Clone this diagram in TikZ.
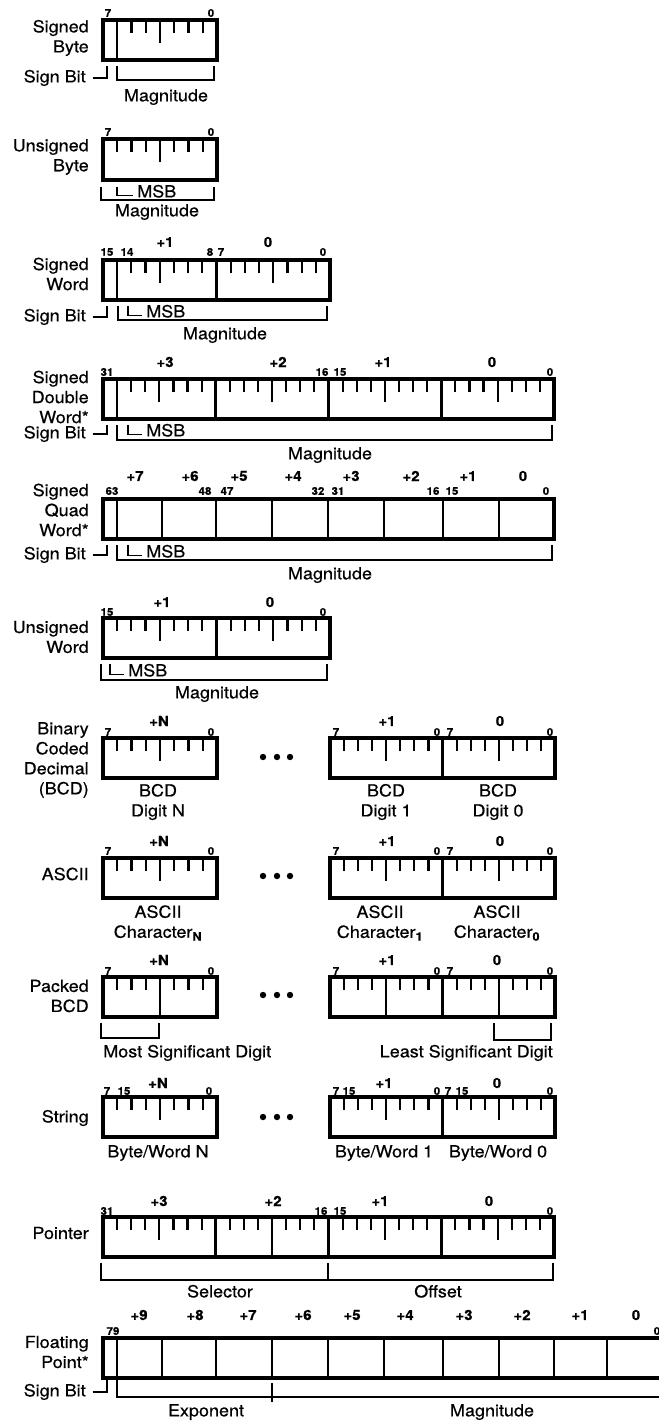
\documentclass[tikz,border=0pt]{standalone}
\usepackage{fontspec}
\setmainfont{TeX Gyre Heros}[FakeStretch=1.08, FakeBold=0.5]
\usetikzlibrary{calc}

\newcommand{\bitfont}{\fontsize{8}{8}\selectfont\bfseries}
\newcommand{\offfont}{\fontsize{10.5}{11}\selectfont\bfseries}
\newcommand{\txtfont}{\fontsize{12.5}{15}\selectfont}

% one byte: seven bit ticks, the middle one long
\newcommand{\fullticks}[3]{%
  \foreach \k in {1,...,7}
    \draw[tick] ({#1+\k*#2/8},#3) -- ++(0,13);
  \draw[tick] ({#1+#2/2},#3) -- ++(0,23);}
% one byte split in two digits
\newcommand{\nibticks}[3]{%
  \foreach \k in {1,2,3,5,6,7}
    \draw[tick] ({#1+\k*#2/8},#3) -- ++(0,13);
  \draw[dvd] ({#1+#2/2},#3) -- ++(0,40);}

\begin{document}
\begin{tikzpicture}[x=0.75pt, y=-0.75pt,
  box/.style={line width=2.6pt},
  dvd/.style={line width=1.7pt},
  tick/.style={line width=1.6pt},
  brk/.style={line width=1.1pt},
  bit/.style={font=\bitfont, inner sep=0pt},
  off/.style={font=\offfont, inner sep=0pt},
  txt/.style={font=\txtfont, inner sep=0pt, text height=9pt, text depth=2.5pt},
  txtc/.style={font=\txtfont, inner sep=0pt, align=center},
  lbl/.style={font=\txtfont, inner sep=0pt, align=right, anchor=east}]
\useasboundingbox (0,0) rectangle (659,1423);
\clip (0,0) rectangle (659,1423);

% signed byte
\draw[box] (103,20) rectangle (217,60);
\fullticks{103}{114}{20}
\draw[dvd] (117.25,20) -- (117.25,60);
\node[bit] (sb7) at (108,13) {7};
\node[bit] (sb0) at (211,13) {0};
\node[lbl] (sbl) at (89,38) {Signed\\Byte};
\node[txt, anchor=east] (sbs) at (86,78) {Sign Bit};
\draw[brk] ([xshift=5pt]sbs.east) -| (107,66);
\draw[brk] (117,66) |- (214,80) -- (214,66);
\node[txt] (sbm) at (166,97) {Magnitude};

% unsigned byte
\draw[box] (103,139) rectangle (217,180);
\fullticks{103}{114}{139}
\node[bit] (ub7) at (108,132) {7};
\node[bit] (ub0) at (211,132) {0};
\node[lbl] (ubl) at (89,157) {Unsigned\\Byte};
\draw[brk] (101,187) |- (214,200) -- (214,187);
\node[txt, anchor=west] (ubmsb) at (137,193) {MSB};
\draw[brk] (117,187) |- ([xshift=-3pt,yshift=1.5pt]ubmsb.base west);
\node[txt] (ubm) at (157,212) {Magnitude};

% signed word
\draw[box] (103,260) rectangle (330,300);
\fullticks{103}{113.5}{260}
\fullticks{216.5}{113.5}{260}
\draw[dvd] (117.2,260) -- (117.2,300);
\draw[box] (216.5,260) -- (216.5,300);
\foreach \x/\t [count=\i] in {107/15,127/14,210/8,221/7,323/0}
  \node[bit] (swb\i) at (\x,252) {\t};
\foreach \x/\t [count=\i] in {165/+1,268/0}
  \node[off] (swo\i) at (\x,242) {\t};
\node[lbl] (swl) at (89,274) {Signed\\Word};
\node[txt, anchor=east] (sws) at (86,317) {Sign Bit};
\draw[brk] ([xshift=5pt]sws.east) -| (107,306);
\draw[brk] (118,306) |- (327,320) -- (327,306);
\node[txt, anchor=west] (swmsb) at (146,313) {MSB};
\draw[brk] (128,306) |- ([xshift=-3pt,yshift=1.5pt]swmsb.base west);
\node[txt] (swm) at (225,335) {Magnitude};

% signed double word
\draw[box] (103,379) rectangle (554,419);
\foreach \b in {0,...,3}
  \fullticks{103+\b*112.75}{112.75}{379}
\foreach \b in {1,2,3}
  \draw[box] ({103+\b*112.75},379) -- ++(0,40);
\draw[dvd] (117.1,379) -- (117.1,419);
\foreach \x/\t [count=\i] in {107/31,322/16,340/15,550/0}
  \node[bit] (sdb\i) at (\x,372) {\t};
\foreach \x/\t [count=\i] in {165/+3,278/+2,383/+1,492/0}
  \node[off] (sdo\i) at (\x,362) {\t};
\node[lbl] (sdl) at (89,397) {Signed\\Double\\Word*};
\node[txt, anchor=east] (sds) at (86,434) {Sign Bit};
\draw[brk] ([xshift=5pt]sds.east) -| (107,425);
\draw[brk] (117,425) |- (552,440) -- (552,425);
\node[txt, anchor=west] (sdmsb) at (146,432) {MSB};
\draw[brk] (128,425) |- ([xshift=-3pt,yshift=1.5pt]sdmsb.base west);
\node[txt] (sdm) at (330,455) {Magnitude};

% signed quad word
\draw[box] (103,499) rectangle (554,539);
\foreach \x in {117,162,216,272,328,384,443,499}
  \draw[dvd] (\x,499) -- ++(0,40);
\foreach \x/\t [count=\i] in {112/63,205/48,227/47,318/32,338/31,433/16,452/15,546/0}
  \node[bit] (sqb\i) at (\x,491) {\t};
\foreach \x/\t [count=\i] in {135/+7,190/+6,239/+5,293/+4,351/+3,411/+2,468/+1,523/0}
  \node[off] (sqo\i) at (\x,476) {\t};
\node[lbl] (sql) at (89,510) {Signed\\Quad\\Word*};
\node[txt, anchor=east] (sqs) at (86,555) {Sign Bit};
\draw[brk] ([xshift=5pt]sqs.east) -| (107,545);
\draw[brk] (117,545) |- (552,560) -- (552,545);
\node[txt, anchor=west] (sqmsb) at (146,553) {MSB};
\draw[brk] (128,545) |- ([xshift=-3pt,yshift=1.5pt]sqmsb.base west);
\node[txt] (sqm) at (330,575) {Magnitude};

% unsigned word
\draw[box] (103,618) rectangle (330,658);
\fullticks{103}{113.5}{618}
\fullticks{216.5}{113.5}{618}
\draw[box] (216.5,618) -- (216.5,658);
\foreach \x/\t [count=\i] in {107/15,323/0}
  \node[bit] (uwb\i) at (\x,612) {\t};
\foreach \x/\t [count=\i] in {162/+1,270/0}
  \node[off] (uwo\i) at (\x,602) {\t};
\node[lbl] (uwl) at (89,637) {Unsigned\\Word};
\draw[brk] (101,664) |- (327,680) -- (327,664);
\node[txt, anchor=west] (uwmsb) at (128,672) {MSB};
\draw[brk] (110,664) |- ([xshift=-3pt,yshift=1.5pt]uwmsb.base west);
\node[txt] (uwm) at (217,694) {Magnitude};

% binary coded decimal
\draw[box] (103,738) rectangle (217,778);
\fullticks{103}{114}{738}
\draw[box] (330,738) rectangle (555,778);
\fullticks{330}{112.5}{738}
\fullticks{442.5}{112.5}{738}
\draw[box] (442.5,738) -- ++(0,40);
\foreach \x/\t [count=\i] in {108/7,211/0,336/7,437/0,450/7,550/0}
  \node[bit] (bcdb\i) at (\x,732) {\t};
\foreach \x/\t [count=\i] in {159/+N,387/+1,500/0}
  \node[off] (bcdo\i) at (\x,721) {\t};
\node[lbl] (bcdl) at (89,760) {Binary\\Coded\\Decimal\\(BCD)};
\node[txtc] (bcdn) at (158,802) {BCD\\Digit N};
\node[txtc] (bcd1) at (386,802) {BCD\\Digit 1};
\node[txtc] (bcd0) at (498,802) {BCD\\Digit 0};
\foreach \x in {263,277,290}
  \fill (\x,757) circle (2.4pt);

% ascii
\draw[box] (103,858) rectangle (217,898);
\fullticks{103}{114}{858}
\draw[box] (330,858) rectangle (555,898);
\fullticks{330}{112.5}{858}
\fullticks{442.5}{112.5}{858}
\draw[box] (442.5,858) -- ++(0,40);
\foreach \x/\t [count=\i] in {108/7,211/0,336/7,437/0,450/7,550/0}
  \node[bit] (asb\i) at (\x,851) {\t};
\foreach \x/\t [count=\i] in {159/+N,387/+1,500/0}
  \node[off] (aso\i) at (\x,841) {\t};
\node[lbl] (asl) at (89,874) {ASCII};
\node[txtc] (asn) at (158,923) {ASCII\\Character\textsubscript{\bfseries N}};
\node[txtc] (as1) at (380,923) {ASCII\\Character\textsubscript{\bfseries 1}};
\node[txtc] (as0) at (497,923) {ASCII\\Character\textsubscript{\bfseries 0}};
\foreach \x in {263,277,290}
  \fill (\x,876) circle (2.4pt);

% packed bcd
\draw[box] (103,977) rectangle (217,1017);
\nibticks{103}{114}{977}
\draw[box] (330,977) rectangle (555,1017);
\nibticks{330}{112.5}{977}
\nibticks{442.5}{112.5}{977}
\draw[box] (442.5,977) -- ++(0,40);
\foreach \x/\t [count=\i] in {108/7,211/0,336/7,437/0,450/7,550/0}
  \node[bit] (pkb\i) at (\x,971) {\t};
\foreach \x/\t [count=\i] in {159/+N,387/+1,497/0}
  \node[off] (pko\i) at (\x,960) {\t};
\node[lbl] (pkl) at (89,996) {Packed\\BCD};
\draw[brk] (101,1023) |- (159,1038) -- (159,1023);
\draw[brk] (494,1023) |- (551,1040) -- (551,1023);
\node[txt, anchor=west] (pkms) at (103,1053) {Most Significant Digit};
\node[txt, anchor=east] (pkls) at (553,1053) {Least Significant Digit};
\foreach \x in {263,277,290}
  \fill (\x,995) circle (2.4pt);

% string
\draw[box] (103,1097) rectangle (217,1137);
\fullticks{103}{114}{1097}
\draw[box] (330,1097) rectangle (555,1137);
\fullticks{330}{112.5}{1097}
\fullticks{442.5}{112.5}{1097}
\draw[box] (442.5,1097) -- ++(0,40);
\foreach \x/\t [count=\i] in {107/7,124/15,209/0,336/7,349/15,437/0,448/7,462/15,550/0}
  \node[bit] (stb\i) at (\x,1091) {\t};
\foreach \x/\t [count=\i] in {158/+N,384/+1,497/0}
  \node[off] (sto\i) at (\x,1083) {\t};
\node[lbl] (stl) at (89,1118) {String};
\node[txt] (stn) at (158,1153) {Byte/Word N};
\node[txt] (st1) at (384,1153) {Byte/Word 1};
\node[txt] (st0) at (498,1153) {Byte/Word 0};
\foreach \x in {263,277,290}
  \fill (\x,1117) circle (2.4pt);

% pointer
\draw[box] (103,1217) rectangle (554,1257);
\fullticks{103}{112.75}{1217}
\nibticks{215.75}{112.75}{1217}
\fullticks{328.5}{112.75}{1217}
\fullticks{441.25}{112.75}{1217}
\foreach \b in {1,2,3}
  \draw[box] ({103+\b*112.75},1217) -- ++(0,40);
\foreach \x/\t [count=\i] in {107/31,321/16,340/15,550/0}
  \node[bit] (ptb\i) at (\x,1211) {\t};
\foreach \x/\t [count=\i] in {159/+3,273/+2,380/+1,489/0}
  \node[off] (pto\i) at (\x,1201) {\t};
\node[lbl] (ptl) at (89,1233) {Pointer};
\draw[brk] (101,1263) |- (553,1280) -- (553,1263);
\draw[brk] (328,1263) -- (328,1280);
\node[txt] (ptsel) at (220,1293) {Selector};
\node[txt] (ptoff) at (438,1293) {Offset};

% floating point
\draw[box] (103,1338) rectangle (665,1378);
\foreach \x in {117,162,216,272,328,384,443,499,554,607}
  \draw[dvd] (\x,1338) -- ++(0,40);
\foreach \x/\t [count=\i] in {113/79,657/0}
  \node[bit] (fpb\i) at (\x,1331) {\t};
\foreach \x/\t [count=\i] in {139/+9,195/+8,248/+7,303/+6,352/+5,405/+4,464/+3,522/+2,580/+1,636/0}
  \node[off] (fpo\i) at (\x,1315) {\t};
\node[lbl] (fpl) at (89,1352) {Floating\\Point*};
\node[txt, anchor=east] (fps) at (86,1392) {Sign Bit};
\draw[brk] ([xshift=5pt]fps.east) -| (107,1379);
\draw[brk] (117,1380) |- (665,1397);
\draw[brk] (272,1383) -- (272,1402);
\node[txt] (fpexp) at (206,1412) {Exponent};
\node[txt] (fpmag) at (492,1412) {Magnitude};
\end{tikzpicture}
\end{document}
